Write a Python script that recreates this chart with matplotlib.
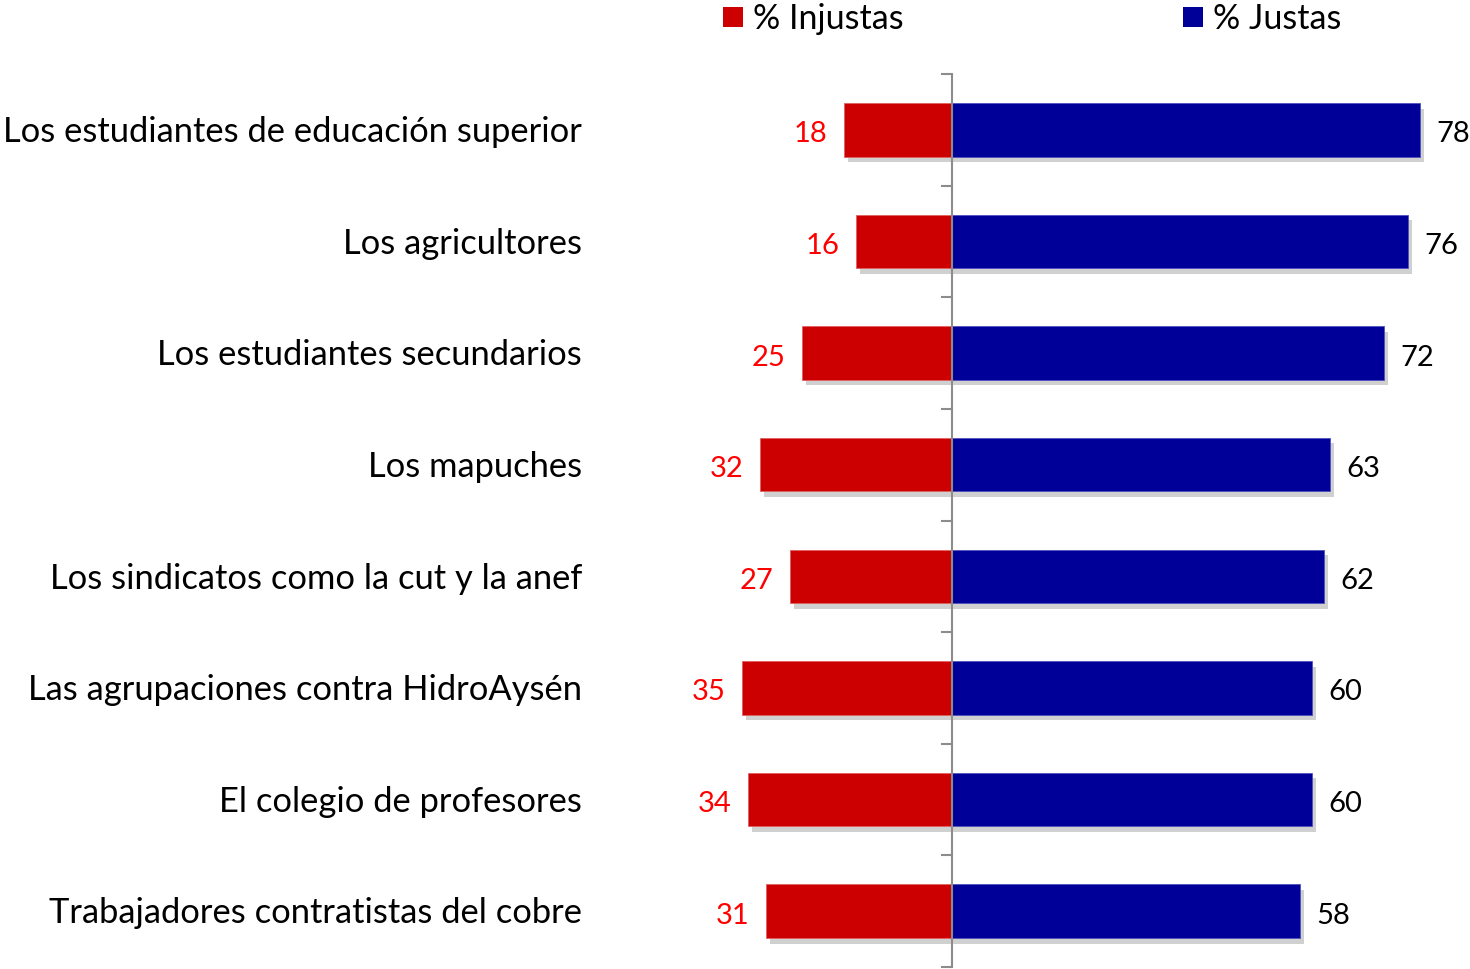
import matplotlib
matplotlib.use('Agg')
import matplotlib.pyplot as plt
import matplotlib.patheffects as pe
from matplotlib.patches import Rectangle

# datos
categorias = [
    'Los estudiantes de educación superior',
    'Los agricultores',
    'Los estudiantes secundarios',
    'Los mapuches',
    'Los sindicatos como la cut y la anef',
    'Las agrupaciones contra HidroAysén',
    'El colegio de profesores',
    'Trabajadores contratistas del cobre',
]
injustas = [18, 16, 25, 32, 27, 35, 34, 31]
justas = [78, 76, 72, 63, 62, 60, 60, 58]
series = ['% Injustas', '% Justas']

ROJO = '#CC0000'
AZUL = '#000099'

plt.rcParams['font.family'] = ['Lato', 'DejaVu Sans']

W, H = 1470, 969
fig = plt.figure(figsize=(W / 100, H / 100), dpi=100)

# eje: centro en x=952 px, 6 px por unidad
x0, x1 = 660, 1470
centro = 952
ppu = 6.0
ax = fig.add_axes([x0 / W, (H - 967) / H, (x1 - x0) / W, (967 - 74) / H])
ax.set_xlim(-(centro - x0) / ppu, (x1 - centro) / ppu)

n = len(categorias)
ys = list(range(n))
ax.set_ylim(n - 0.5, -0.5)

sombra = [pe.SimplePatchShadow(offset=(3, -4), alpha=0.3, shadow_rgbFace='#666666'), pe.Normal()]
b1 = ax.barh(ys, [-v for v in injustas], height=0.48, color=ROJO, edgecolor='#E06060', linewidth=0.6)
b2 = ax.barh(ys, justas, height=0.48, color=AZUL, edgecolor='#5050C0', linewidth=0.6)
for b in list(b1) + list(b2):
    b.set_path_effects(sombra)

fs_val = 21
for y, v in zip(ys, injustas):
    ax.text(-v - 2.8, y + 0.04, str(v), color='#FF0000', ha='right', va='center', fontsize=fs_val)
for y, v in zip(ys, justas):
    ax.text(v + 2.8, y + 0.04, str(v), color='black', ha='left', va='center', fontsize=fs_val)

# linea central con marcas
ax.axvline(0, color='#8C8C8C', linewidth=1.5, zorder=3)
for yb in [i - 0.5 for i in range(n + 1)]:
    ax.plot([-1.6, 0], [yb, yb], color='#8C8C8C', linewidth=1.5, zorder=3, clip_on=False)

for s in ax.spines.values():
    s.set_visible(False)
ax.set_xticks([])
ax.set_yticks([])

# etiquetas de categoria
for y, c in zip(ys, categorias):
    ax.text(-(centro - 582) / ppu, y + 0.02, c, ha='right', va='center', fontsize=24.8,
            color='black', clip_on=False)

# leyenda
for xs, col, lab in zip([723, 1183], [ROJO, AZUL], series):
    fig.patches.append(Rectangle((xs / W, (H - 27) / H), 20 / W, 20 / H, transform=fig.transFigure,
                                 facecolor=col, edgecolor='none'))
    fig.text((xs + 30) / W, (H - 19) / H, lab, ha='left', va='center', fontsize=24.5)

fig.savefig('out.png', dpi=100)
